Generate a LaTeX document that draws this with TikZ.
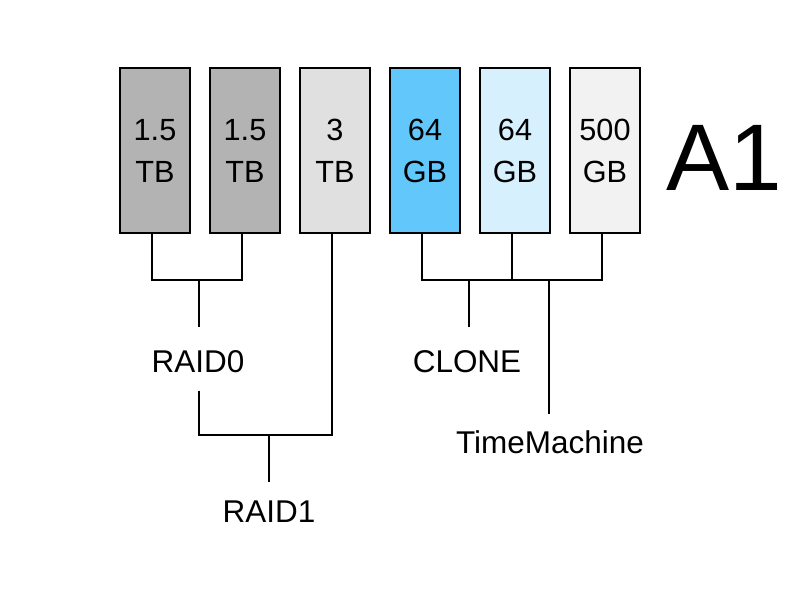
\documentclass[tikz,border=0pt]{standalone}
\usepackage{fontspec}
\setmainfont{Liberation Sans}
\definecolor{dgray}{HTML}{B3B3B3}
\definecolor{lgray}{HTML}{E0E0E0}
\definecolor{sky}{HTML}{62C7FA}
\definecolor{lsky}{HTML}{D6F0FD}
\definecolor{wgray}{HTML}{F2F2F2}
\tikzset{
  disk/.style={draw=black, line width=1.5pt, minimum width=52.5pt, minimum height=123.75pt,
    inner sep=0pt, align=center, font=\fontsize{23}{31.5}\selectfont},
  lbl/.style={inner sep=0pt, anchor=base, font=\fontsize{23.6}{27}\selectfont},
  wire/.style={line width=2.1pt, line cap=butt}
}
\begin{document}
\begin{tikzpicture}[x=0.75pt, y=-0.75pt]
\useasboundingbox (0,0) rectangle (800,600);
% disks
\node[disk, fill=dgray] (d1) at (155,150.5) {1.5\\TB};
\node[disk, fill=dgray] (d2) at (245,150.5) {1.5\\TB};
\node[disk, fill=lgray] (d3) at (335,150.5) {3\\TB};
\node[disk, fill=sky]   (d4) at (425,150.5) {64\\GB};
\node[disk, fill=lsky]  (d5) at (515,150.5) {64\\GB};
\node[disk, fill=wgray] (d6) at (605,150.5) {500\\GB};
\node[inner sep=0pt, anchor=base west, font=\fontsize{71}{80}\selectfont] (a1) at (666,190) {A1};
% labels
\node[lbl] (raid0) at (198,372) {RAID0};
\node[lbl] (raid1) at (269,522) {RAID1};
\node[lbl] (clone) at (467,372) {CLONE};
\node[lbl] (tm) at (550,453) {TimeMachine};
% junctions
\coordinate (j0) at (199,280);
\coordinate (j1) at (269,435);
\coordinate (jc) at (469,280);
\coordinate (jt) at (549,280);
% RAID0
\draw[wire] ([xshift=-2.25pt]d1.south) |- (j0) -| ([xshift=-2.25pt]d2.south);
\draw[wire] (j0) -- ([yshift=17.25pt]raid0.north -| j0);
% RAID1
\draw[wire] ([yshift=-13.5pt]raid0.south -| j0) |- (j1) -| ([xshift=-2.25pt]d3.south);
\draw[wire] (j1) -- ([yshift=13.5pt]raid1.north -| j1);
% CLONE / TimeMachine
\draw[wire] ([xshift=-2.25pt]d4.south) |- (jc) -| ([xshift=-2.25pt]d6.south);
\draw[wire] ([xshift=-2.25pt]d5.south) -- ([xshift=-2.25pt]d5.south |- jc);
\draw[wire] (jc) -- ([yshift=17.25pt]clone.north -| jc);
\draw[wire] (jt) -- ([yshift=12pt]tm.north -| jt);
\end{tikzpicture}
\end{document}
